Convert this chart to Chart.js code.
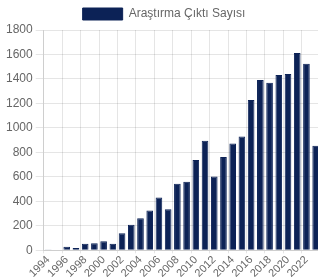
<!DOCTYPE html>
<html>
<head>
<meta charset="utf-8">
<script src="https://cdn.jsdelivr.net/npm/chart.js@4"></script>
<style>
  body { margin: 0; background: #fff; }
  #wrap { width: 318px; height: 280px; overflow: hidden; }
</style>
</head>
<body>
<div id="wrap"><canvas id="output-chart" width="325" height="280"></canvas></div>
<script>
const years = ["1994", "1995", "1996", "1997", "1998", "1999", "2000", "2001", "2002", "2003",
  "2004", "2005", "2006", "2007", "2008", "2009", "2010", "2011", "2012", "2013",
  "2014", "2015", "2016", "2017", "2018", "2019", "2020", "2021", "2022", "2023"];
const outputCounts = [3, 5, 30, 20, 55, 58, 75, 55, 140, 210,
  262, 325, 432, 336, 545, 560, 738, 895, 603, 762,
  872, 930, 1228, 1392, 1370, 1433, 1441, 1612, 1525, 855];
const yTicks = [0, 200, 400, 600, 800, 1000, 1200, 1400, 1600, 1800];

Chart.defaults.font.family = "'Liberation Sans', Arial, sans-serif";
Chart.defaults.font.size = 12;
Chart.defaults.color = '#666';

const outputCanvas = document.getElementById('output-chart');

const outputData = {
  labels: years,
  datasets: [{
    label: 'Araştırma Çıktı Sayısı',
    data: outputCounts,
    backgroundColor: '#0c2256',
    borderColor: '#0c2256',
    borderWidth: 1
  }]
};

// only every other year gets a label and a grid line
const gridColor = 'rgba(0,0,0,0.1)';

const outputOptions = {
  responsive: false,
  animation: false,
  layout: { padding: { left: 3, right: 0 } },
  scales: {
    x: {
      ticks: {
        autoSkip: false,
        minRotation: 45,
        maxRotation: 45,
        padding: 0,
        font: { size: 11 },
        callback: (val, i) => i % 2 === 0 ? years[i] : ''
      },
      grid: {
        tickLength: 3,
        color: ctx => ctx.index % 2 === 0 ? gridColor : 'rgba(0,0,0,0)'
      }
    },
    y: {
      min: 0,
      max: 1800,
      afterBuildTicks: axis => {
        axis.ticks = yTicks.map(v => ({ value: v }));
      },
      ticks: {
        callback: v => String(v)
      }
    }
  },
  plugins: {
    legend: {
      labels: {
        boxWidth: 40,
        boxHeight: 12,
        padding: 8
      }
    },
    tooltip: { enabled: false }
  }
};

let outputChart = new Chart(outputCanvas, {
  type: 'bar',
  data: outputData,
  options: outputOptions
});
</script>
</body>
</html>
